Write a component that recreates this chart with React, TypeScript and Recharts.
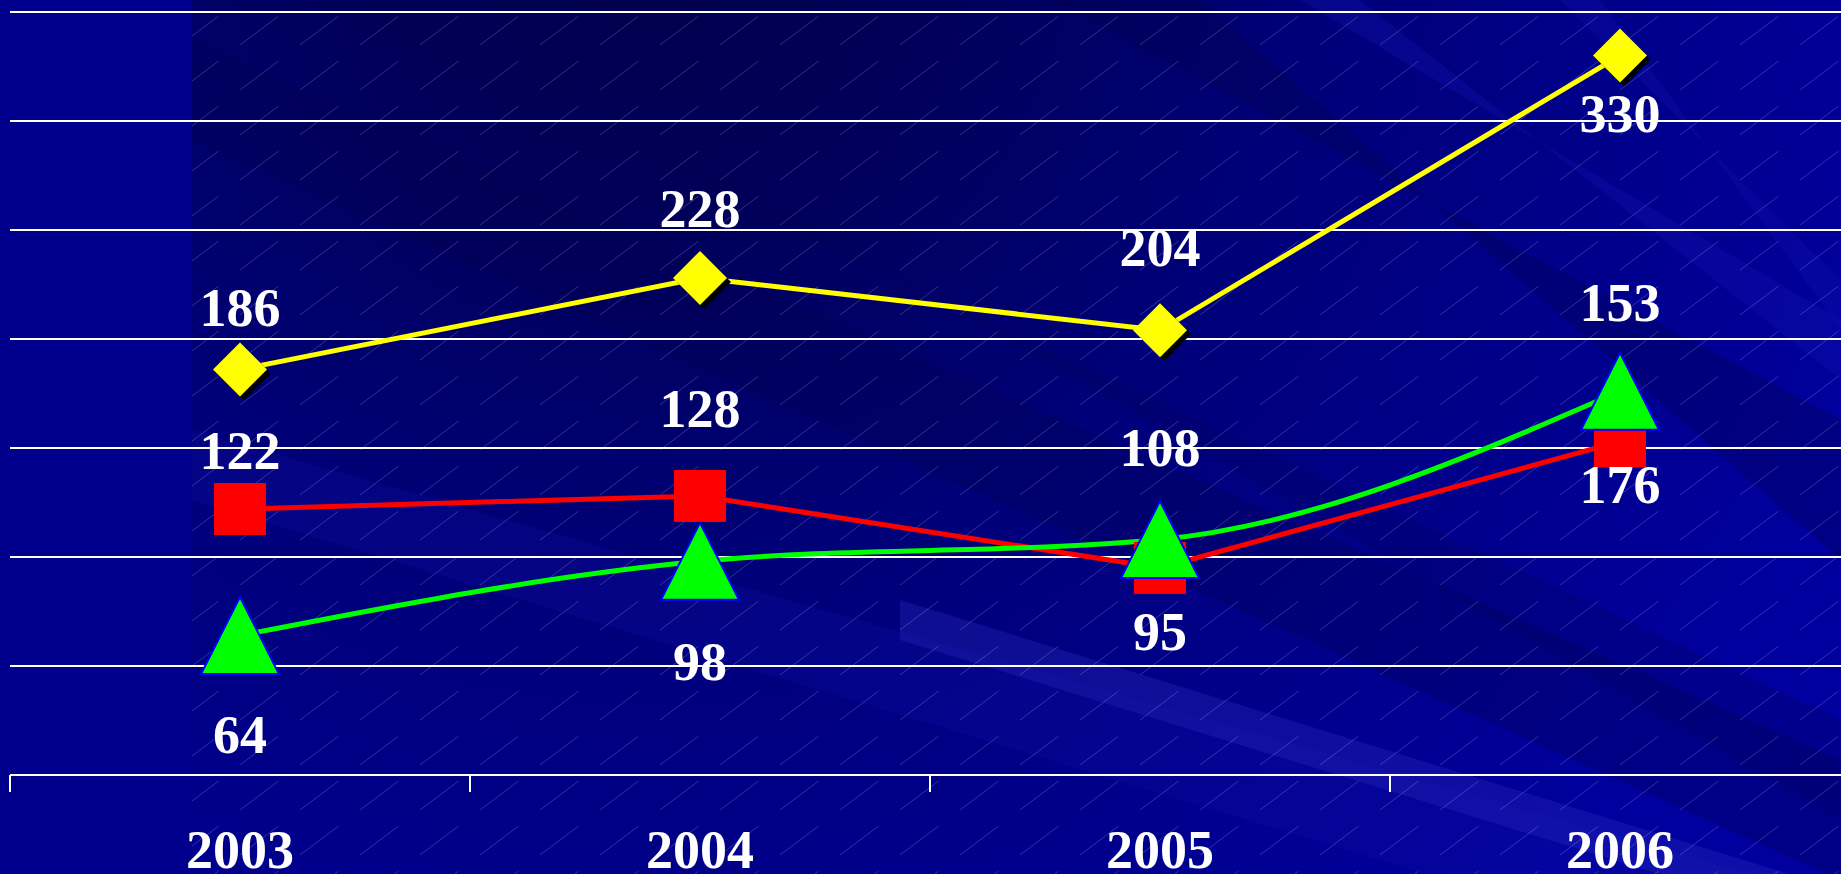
import React from 'react'
import { LineChart, Line, XAxis, YAxis, CartesianGrid, LabelList } from 'recharts'

const years = ['2003', '2004', '2005', '2006']
const yellowValues = [186, 228, 204, 330]
const redValues = [122, 128, 95, 153]
const greenValues = [64, 98, 108, 176]

// data label texts as printed on the slide
const yellowLabels = ['186', '228', '204', '330']
const redLabels = ['122', '128', '95', '176']
const greenLabels = ['64', '98', '108', '153']

const yTicks = [0, 50, 100, 150, 200, 250, 300, 350]
const xTicks = [0, 0.5, 1, 1.5, 2, 2.5, 3, 3.5, 4]

// label centre offset from the marker, in px
const yellowLabelDy = [-62, -69, -82, 58]
const redLabelDy = [-58, -87, 64, 44]
const greenLabelDy = [100, 101, -92, -88]

const data = years.map((year, i) => ({
  pos: i + 0.5,
  year,
  yellow: yellowValues[i],
  red: redValues[i],
  green: greenValues[i],
}))

const FONT = "'Liberation Serif', 'Times New Roman', serif"

function YearTick(props: any) {
  const { x, y, payload } = props
  const v = payload.value
  if (Number.isInteger(v)) {
    return <line x1={x} x2={x} y1={y} y2={y + 17} stroke="#fff" strokeWidth={2} />
  }
  return (
    <text x={x} y={y + 93} textAnchor="middle" fill="#fff" fontFamily={FONT} fontSize={54} fontWeight="bold">
      {years[Math.floor(v)]}
    </text>
  )
}

const noTick = () => <g />

const renderDiamond = (p: any) => {
  const { cx, cy, index } = p
  const r = 27
  const pts = (dx: number, dy: number) =>
    `${cx + dx},${cy - r + dy} ${cx + r + dx},${cy + dy} ${cx + dx},${cy + r + dy} ${cx - r + dx},${cy + dy}`
  return (
    <g key={`dia-${index}`}>
      <polygon points={pts(4, 4)} fill="#000" />
      <polygon points={pts(0, 0)} fill="#ffff00" />
    </g>
  )
}

const renderSquare = (p: any) => {
  const { cx, cy, index } = p
  return <rect key={`sq-${index}`} x={cx - 26} y={cy - 26} width={52} height={52} fill="#ff0000" />
}

const renderTriangle = (p: any) => {
  const { cx, cy, index } = p
  const h = 38.5
  const w = 39
  return (
    <polygon
      key={`tri-${index}`}
      points={`${cx},${cy - h} ${cx + w},${cy + h} ${cx - w},${cy + h}`}
      fill="#00ff00"
      stroke="#0000ff"
      strokeWidth={2}
    />
  )
}

const makeLabel = (texts: string[], offsets: number[]) => (p: any) => {
  const x = p.x ?? p.viewBox?.x
  const y = p.y ?? p.viewBox?.y
  const i = p.index ?? 0
  return (
    <text
      key={`lbl-${i}`}
      x={x}
      y={y + offsets[i]}
      textAnchor="middle"
      dominantBaseline="central"
      fill="#fff"
      fontFamily={FONT}
      fontSize={54}
      fontWeight="bold"
    >
      {texts[i]}
    </text>
  )
}

function Backdrop() {
  return (
    <svg width={1841} height={874} style={{ position: 'absolute', left: 0, top: 0 }}>
      <defs>
        <radialGradient id="bgGlow" cx="650" cy="-80" r="1300" gradientUnits="userSpaceOnUse">
          <stop offset="0" stopColor="#00004a" />
          <stop offset="0.25" stopColor="#00005c" />
          <stop offset="0.5" stopColor="#000078" />
          <stop offset="0.8" stopColor="#00008e" />
          <stop offset="1" stopColor="#00009e" />
        </radialGradient>
        <pattern id="hatch" width="60" height="45" patternUnits="userSpaceOnUse">
          <line x1="0" y1="45" x2="60" y2="0" stroke="rgba(200,200,255,0.24)" strokeWidth="1" strokeDasharray="48 27" />
        </pattern>
      </defs>
      <rect width={1841} height={874} fill="#00008c" />
      <rect x={192} width={1649} height={874} fill="url(#bgGlow)" />
      <polygon points="192,40 192,140 1841,880 1841,760" fill="#000050" opacity={0.3} />
      <polygon points="192,430 192,500 1841,1000 1841,900" fill="#1010a8" opacity={0.25} />
      <polygon points="300,0 420,0 1841,820 1841,720" fill="#000050" opacity={0.22} />
      <polygon points="1050,0 1200,0 1841,560 1841,420" fill="#000048" opacity={0.3} />
      <polygon points="1300,0 1360,0 1841,380 1841,320" fill="#1414b4" opacity={0.3} />
      <polygon points="1560,0 1600,0 1841,330 1841,280" fill="#1414b4" opacity={0.25} />
      <polygon points="900,600 900,640 1841,930 1841,890" fill="#3030c4" opacity={0.3} />
      <rect x={192} width={1649} height={874} fill="url(#hatch)" />
    </svg>
  )
}

export default function App() {
  return (
    <div style={{ position: 'fixed', left: 0, top: 0, width: 1841, height: 874, overflow: 'hidden', background: '#00008c' }}>
      <Backdrop />
      <div style={{ position: 'absolute', left: 0, top: 0 }}>
        <LineChart width={1850} height={874} data={data} margin={{ top: 12, right: 0, left: 10, bottom: 0 }}>
          <CartesianGrid vertical={false} stroke="#fff" strokeWidth={2} />
          <XAxis
            dataKey="pos"
            type="number"
            domain={[0, 4]}
            ticks={xTicks}
            interval={0}
            height={99}
            tickSize={0}
            tickMargin={0}
            tickLine={false}
            axisLine={{ stroke: '#fff', strokeWidth: 2 }}
            tick={<YearTick />}
          />
          <YAxis
            domain={[0, 350]}
            ticks={yTicks}
            interval={0}
            width={0}
            tick={noTick}
            tickLine={false}
            axisLine={{ stroke: '#fff', strokeWidth: 2 }}
          />
          <Line
            dataKey="red"
            type="linear"
            stroke="#ff0000"
            strokeWidth={5}
            dot={renderSquare}
            activeDot={false}
            isAnimationActive={false}
          >
            <LabelList dataKey="red" content={makeLabel(redLabels, redLabelDy)} />
          </Line>
          <Line
            dataKey="green"
            type="monotone"
            stroke="#00ff00"
            strokeWidth={5}
            dot={renderTriangle}
            activeDot={false}
            isAnimationActive={false}
          >
            <LabelList dataKey="green" content={makeLabel(greenLabels, greenLabelDy)} />
          </Line>
          <Line
            dataKey="yellow"
            type="linear"
            stroke="#ffff00"
            strokeWidth={5}
            dot={renderDiamond}
            activeDot={false}
            isAnimationActive={false}
          >
            <LabelList dataKey="yellow" content={makeLabel(yellowLabels, yellowLabelDy)} />
          </Line>
        </LineChart>
      </div>
    </div>
  )
}
